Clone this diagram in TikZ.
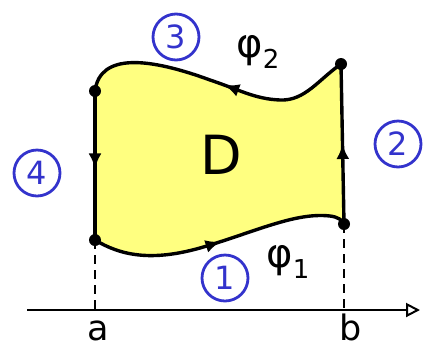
\documentclass[tikz,border=0pt]{standalone}
\usepackage{fontspec}
\setmainfont{DejaVu Sans}
\usetikzlibrary{decorations.markings,arrows.meta}
\definecolor{fillY}{HTML}{FFFF80}
\definecolor{penB}{HTML}{3333CC}
\newcommand{\phisub}[1]{φ\raisebox{-0.28em}{\fontsize{26}{26}\selectfont #1}}
\begin{document}
\begin{tikzpicture}[x=1pt,y=-1pt,
  edge/.style={line width=3.4pt,line cap=round,
    postaction={decorate},
    decoration={markings,mark=at position #1 with {\arrow{Latex[length=15pt,width=13pt]}}}},
  dot/.style={circle,fill=black,inner sep=0pt,minimum size=12pt},
  num/.style={circle,draw=penB,text=penB,line width=2.8pt,minimum size=46pt,inner sep=0pt,font=\fontsize{32}{32}\selectfont},
  lab/.style={font=\fontsize{35}{35}\selectfont,anchor=base,inner sep=0pt},
  philab/.style={font=\fontsize{40}{40}\selectfont},
  axis/.style={line width=2pt,-{Triangle[open,length=14pt,width=14pt,line width=2pt]}},
  guide/.style={line width=2pt,dash pattern=on 9pt off 6pt}]
\useasboundingbox (0,0) rectangle (435,349);
\coordinate (A) at (95,240);
\coordinate (B) at (344,224);
\coordinate (C) at (341,64);
\coordinate (E) at (95,91);
\coordinate (Aa) at (95,310);
\coordinate (Bb) at (344,310);
\coordinate (X0) at (27,310);
\coordinate (X1) at (420,310);
% fill
\fill[fillY] (A) .. controls (120,255) and (150,262) .. (200,248)
  .. controls (255,232) and (295,212) .. (330,216) .. controls (338,217) and (342,220) .. (B)
  -- (C) .. controls (318,80) and (305,101) .. (280,100)
  .. controls (255,99) and (240,90) .. (210,80)
  .. controls (150,58) and (100,52) .. (E) -- cycle;
% guides and axis
\draw[guide] (A) -- (Aa);
\draw[guide] (B) -- (Bb);
\draw[axis] (X0) -- (X1);
% boundary
\draw[edge=0.5] (A) .. controls (120,255) and (150,262) .. (200,248)
  .. controls (255,232) and (295,212) .. (330,216) .. controls (338,217) and (342,220) .. (B);
\draw[edge=0.5] (B) -- (C);
\draw[edge=0.47] (C) .. controls (318,80) and (305,101) .. (280,100)
  .. controls (255,99) and (240,90) .. (210,80)
  .. controls (150,58) and (100,52) .. (E);
\draw[edge=0.52] (E) -- (A);
\node[dot] (dA) at (A) {};
\node[dot] (dB) at (B) {};
\node[dot] (dC) at (C) {};
\node[dot] (dE) at (E) {};
% labels
\node[lab] (la) at (98,340) {a};
\node[lab] (lb) at (351,340) {b};
\node[font=\fontsize{54}{54}\selectfont] (D) at (221,155) {D};
\node[philab] (p2) at (258,52) {\phisub{2}};
\node[philab] (p1) at (288,262) {\phisub{1}};
\node[num] (n3) at (176,37) {3};
\node[num] (n2) at (398,144) {2};
\node[num] (n4) at (37,173) {4};
\node[num] (n1) at (225,278) {1};
\end{tikzpicture}
\end{document}
